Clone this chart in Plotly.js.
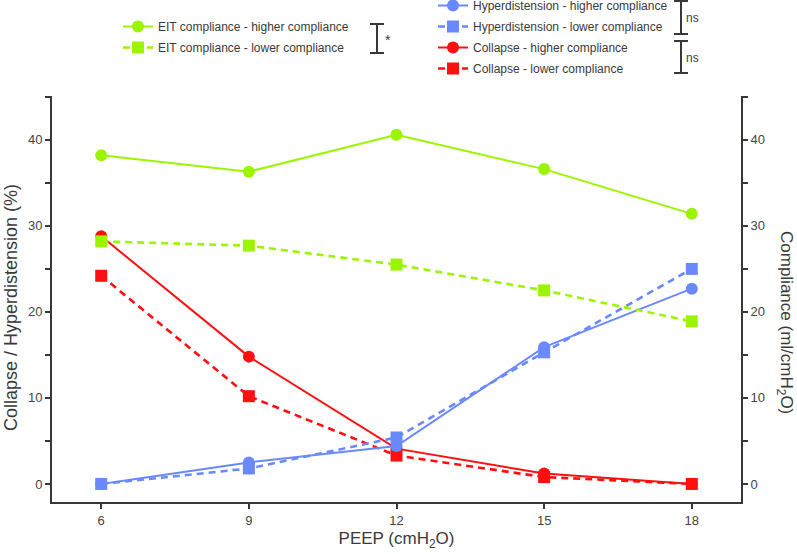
<!DOCTYPE html>
<html>
<head>
<meta charset="utf-8">
<script src="https://cdn.plot.ly/plotly-3.0.1.min.js"></script>
<style>html,body{margin:0;padding:0;background:#fff;}#chart{width:797px;height:554px;}</style>
</head>
<body>
<div id="chart"></div>
<script>
// ---- data ----
const peep = [6, 9, 12, 15, 18];
const eitHigher = [38.2, 36.3, 40.6, 36.6, 31.4];
const eitLower = [28.2, 27.7, 25.5, 22.5, 18.9];
const hyperHigher = [0, 2.5, 4.4, 15.9, 22.7];
const hyperLower = [0, 1.8, 5.4, 15.3, 25.0];
const collapseHigher = [28.8, 14.8, 4.1, 1.2, 0];
const collapseLower = [24.2, 10.2, 3.3, 0.8, 0];
const names = {
  eitH: 'EIT compliance - higher compliance',
  eitL: 'EIT compliance - lower compliance',
  hypH: 'Hyperdistension - higher compliance',
  hypL: 'Hyperdistension - lower compliance',
  colH: 'Collapse - higher compliance',
  colL: 'Collapse - lower compliance'
};

const GREEN = '#9cf500', BLUE = '#6a89ff', RED = '#ff0f0f', AX = '#383838';

function tr(y, name, color, dash, symbol, yaxis, legend, rank) {
  return {
    x: peep, y: y, name: name, type: 'scatter', mode: 'lines+markers',
    line: {color: color, width: dash === 'solid' ? 2 : 2.6, dash: dash === 'solid' ? 'solid' : '7px,5px'},
    marker: {color: color, size: 12, symbol: symbol},
    yaxis: yaxis, legend: legend, legendrank: rank, legendgroup: name
  };
}

const data = [
  tr(collapseHigher, names.colH, RED, 'solid', 'circle', 'y', 'legend2', 3),
  tr(collapseLower, names.colL, RED, 'dash', 'square', 'y', 'legend2', 4),
  tr(hyperHigher, names.hypH, BLUE, 'solid', 'circle', 'y', 'legend2', 1),
  tr(hyperLower, names.hypL, BLUE, 'dash', 'square', 'y', 'legend2', 2),
  tr(eitHigher, names.eitH, GREEN, 'solid', 'circle', 'y2', 'legend', 1),
  tr(eitLower, names.eitL, GREEN, 'dash', 'square', 'y2', 'legend', 2)
];

// pixel -> paper helpers for decorations
const L = 52, R = 741, T = 96, B = 502;
const px = v => (v - L) / (R - L);
const py = v => (B - v) / (B - T);
function seg(x0, y0, x1, y1) {
  return {type: 'line', xref: 'paper', yref: 'paper', x0: px(x0), y0: py(y0), x1: px(x1), y1: py(y1),
    line: {color: AX, width: 2}};
}
function bracket(x, y0, y1) {
  return [seg(x, y0, x, y1), seg(x - 7, y0, x + 7, y0), seg(x - 7, y1, x + 7, y1)];
}

const shapes = [].concat(bracket(377, 24, 53), bracket(681, 1, 34), bracket(681, 41, 73));

const FAM = 'Liberation Sans, Arial, sans-serif';
const TXT = '#3a3a3a';

const layout = {
  width: 797, height: 554,
  margin: {l: L, r: 797 - R, t: T, b: 554 - B, autoexpand: false},
  paper_bgcolor: '#fff', plot_bgcolor: '#fff',
  font: {family: FAM, size: 12, color: TXT},
  showlegend: true,
  xaxis: {
    range: [5, 19], tickvals: peep, ticks: 'outside', ticklen: 5, tickwidth: 2, tickcolor: AX,
    showline: true, linecolor: AX, linewidth: 2, showgrid: false, zeroline: false,
    tickfont: {size: 13, color: '#444'},
    title: {text: 'PEEP (cmH<sub>2</sub>O)', font: {size: 17, color: TXT}, standoff: 6}
  },
  yaxis: {
    range: [-2.1, 45.1], dtick: 10, tick0: 0, ticks: 'outside', ticklen: 5, tickwidth: 2, tickcolor: AX,
    minor: {dtick: 5, tick0: 0, ticks: 'outside', ticklen: 5, tickwidth: 2, tickcolor: AX, showgrid: false},
    showline: true, linecolor: AX, linewidth: 2, showgrid: false, zeroline: false,
    tickfont: {size: 13, color: '#444'}
  },
  yaxis2: {
    range: [-2.1, 45.1], dtick: 10, tick0: 0, overlaying: 'y', side: 'right',
    ticks: 'outside', ticklen: 5, tickwidth: 2, tickcolor: AX,
    minor: {dtick: 5, tick0: 0, ticks: 'outside', ticklen: 5, tickwidth: 2, tickcolor: AX, showgrid: false},
    showline: true, linecolor: AX, linewidth: 2, showgrid: false, zeroline: false,
    tickfont: {size: 13, color: '#444'}
  },
  legend: {
    x: px(118), xanchor: 'left', y: py(12), yref: 'paper', yanchor: 'top',
    font: {size: 12, color: TXT}, bgcolor: 'rgba(0,0,0,0)', tracegroupgap: 2
  },
  legend2: {
    x: px(433), xanchor: 'left', y: py(-9), yref: 'paper', yanchor: 'top',
    font: {size: 12, color: TXT}, bgcolor: 'rgba(0,0,0,0)', tracegroupgap: 2
  },
  shapes: shapes,
  annotations: [
    {text: '*', xref: 'paper', yref: 'paper', x: px(383), y: py(40), xanchor: 'left', yanchor: 'middle',
     showarrow: false, font: {size: 14, color: TXT}},
    {text: 'ns', xref: 'paper', yref: 'paper', x: px(684), y: py(18), xanchor: 'left', yanchor: 'middle',
     showarrow: false, font: {size: 12, color: TXT}},
    {text: 'ns', xref: 'paper', yref: 'paper', x: px(684), y: py(58), xanchor: 'left', yanchor: 'middle',
     showarrow: false, font: {size: 12, color: TXT}},
    {text: 'Collapse / Hyperdistension (%)', xref: 'paper', yref: 'paper', x: px(11), y: py(308),
     xanchor: 'center', yanchor: 'middle', textangle: -90, showarrow: false, font: {size: 18, color: TXT}},
    {text: 'Compliance (ml/cmH<sub>2</sub>O)', xref: 'paper', yref: 'paper', x: px(785), y: py(322),
     xanchor: 'center', yanchor: 'middle', textangle: 90, showarrow: false, font: {size: 17, color: TXT}}
  ]
};

Plotly.newPlot('chart', data, layout, {displayModeBar: false, staticPlot: true});
</script>
</body>
</html>
